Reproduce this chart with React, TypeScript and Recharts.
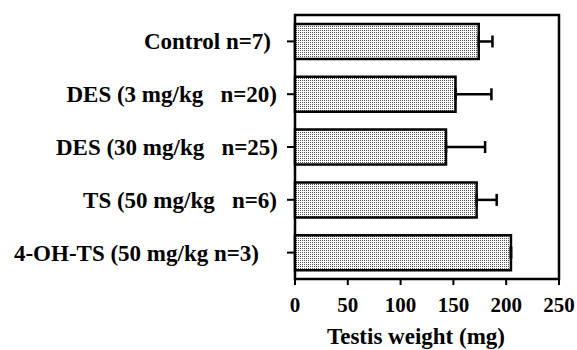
import { BarChart, Bar, XAxis, YAxis, ErrorBar, ReferenceArea } from 'recharts'

const groups = ['Control', 'DES (3 mg/kg', 'DES (30 mg/kg', 'TS (50 mg/kg', '4-OH-TS (50 mg/kg']
const counts = ['n=7)', 'n=20)', 'n=25)', 'n=6)', 'n=3)']
const weights = [174, 152, 143, 172, 204.5]
const errUpper = [13, 34, 37, 19, 0]
const xTicks = [0, 50, 100, 150, 200, 250]

const data = groups.map((g, i) => ({
  group: g,
  weight: weights[i],
  err: [0, errUpper[i]],
}))

const FONT = 'Liberation Serif'

// spacing between dose and n, and nudges, copied by eye from the original figure
const gaps = [' ', '   ', '   ', '   ', ' ']
const nudge = [7, 1, 0, 1, 19]

function GroupTick({ x, y, payload }: any) {
  const i = payload.index
  return (
    <text
      x={x - 7 - nudge[i]}
      y={y}
      dy="0.35em"
      textAnchor="end"
      fontWeight="bold"
      fontSize={23}
      fill="#000"
      style={{ whiteSpace: 'pre', fontFamily: FONT }}
    >
      {groups[i] + gaps[i] + counts[i]}
    </text>
  )
}

export default function App() {
  return (
    <div style={{ position: 'absolute', left: 0, top: 0, background: '#fff', fontFamily: FONT }}>
      <BarChart
        width={577}
        height={350}
        data={data}
        layout="vertical"
        margin={{ top: 15, right: 18, left: 0, bottom: 0 }}
        barCategoryGap="17%"
        style={{ fontFamily: FONT }}
      >
        <defs>
          <pattern id="dots" width="2" height="2" patternUnits="userSpaceOnUse">
            <rect width="2" height="2" fill="#fff" />
            <rect width="1" height="1" fill="#555" />
          </pattern>
        </defs>
        <XAxis
          type="number"
          domain={[0, 250]}
          ticks={xTicks}
          axisLine={false}
          tickSize={6}
          tickLine={{ stroke: '#000', strokeWidth: 2 }}
          tickMargin={12}
          height={71}
          tick={{ fill: '#000', fontSize: 21, fontWeight: 'bold', fontFamily: FONT }}
          label={{
            value: 'Testis weight (mg)',
            position: 'insideBottom',
            offset: 6,
            dx: -11,
            fill: '#000',
            fontSize: 23,
            fontWeight: 'bold',
            fontFamily: FONT,
          }}
        />
        <YAxis
          type="category"
          dataKey="group"
          width={295}
          axisLine={false}
          tickSize={8}
          tickLine={{ stroke: '#000', strokeWidth: 2 }}
          tick={<GroupTick />}
          interval={0}
        />
        <ReferenceArea x1={0} x2={250} fill="none" stroke="#000" strokeWidth={2.5} ifOverflow="visible" />
        <Bar dataKey="weight" fill="url(#dots)" stroke="#000" strokeWidth={2.5} isAnimationActive={false}>
          <ErrorBar dataKey="err" direction="x" width={6} stroke="#000" strokeWidth={2.5} />
        </Bar>
      </BarChart>
    </div>
  )
}
